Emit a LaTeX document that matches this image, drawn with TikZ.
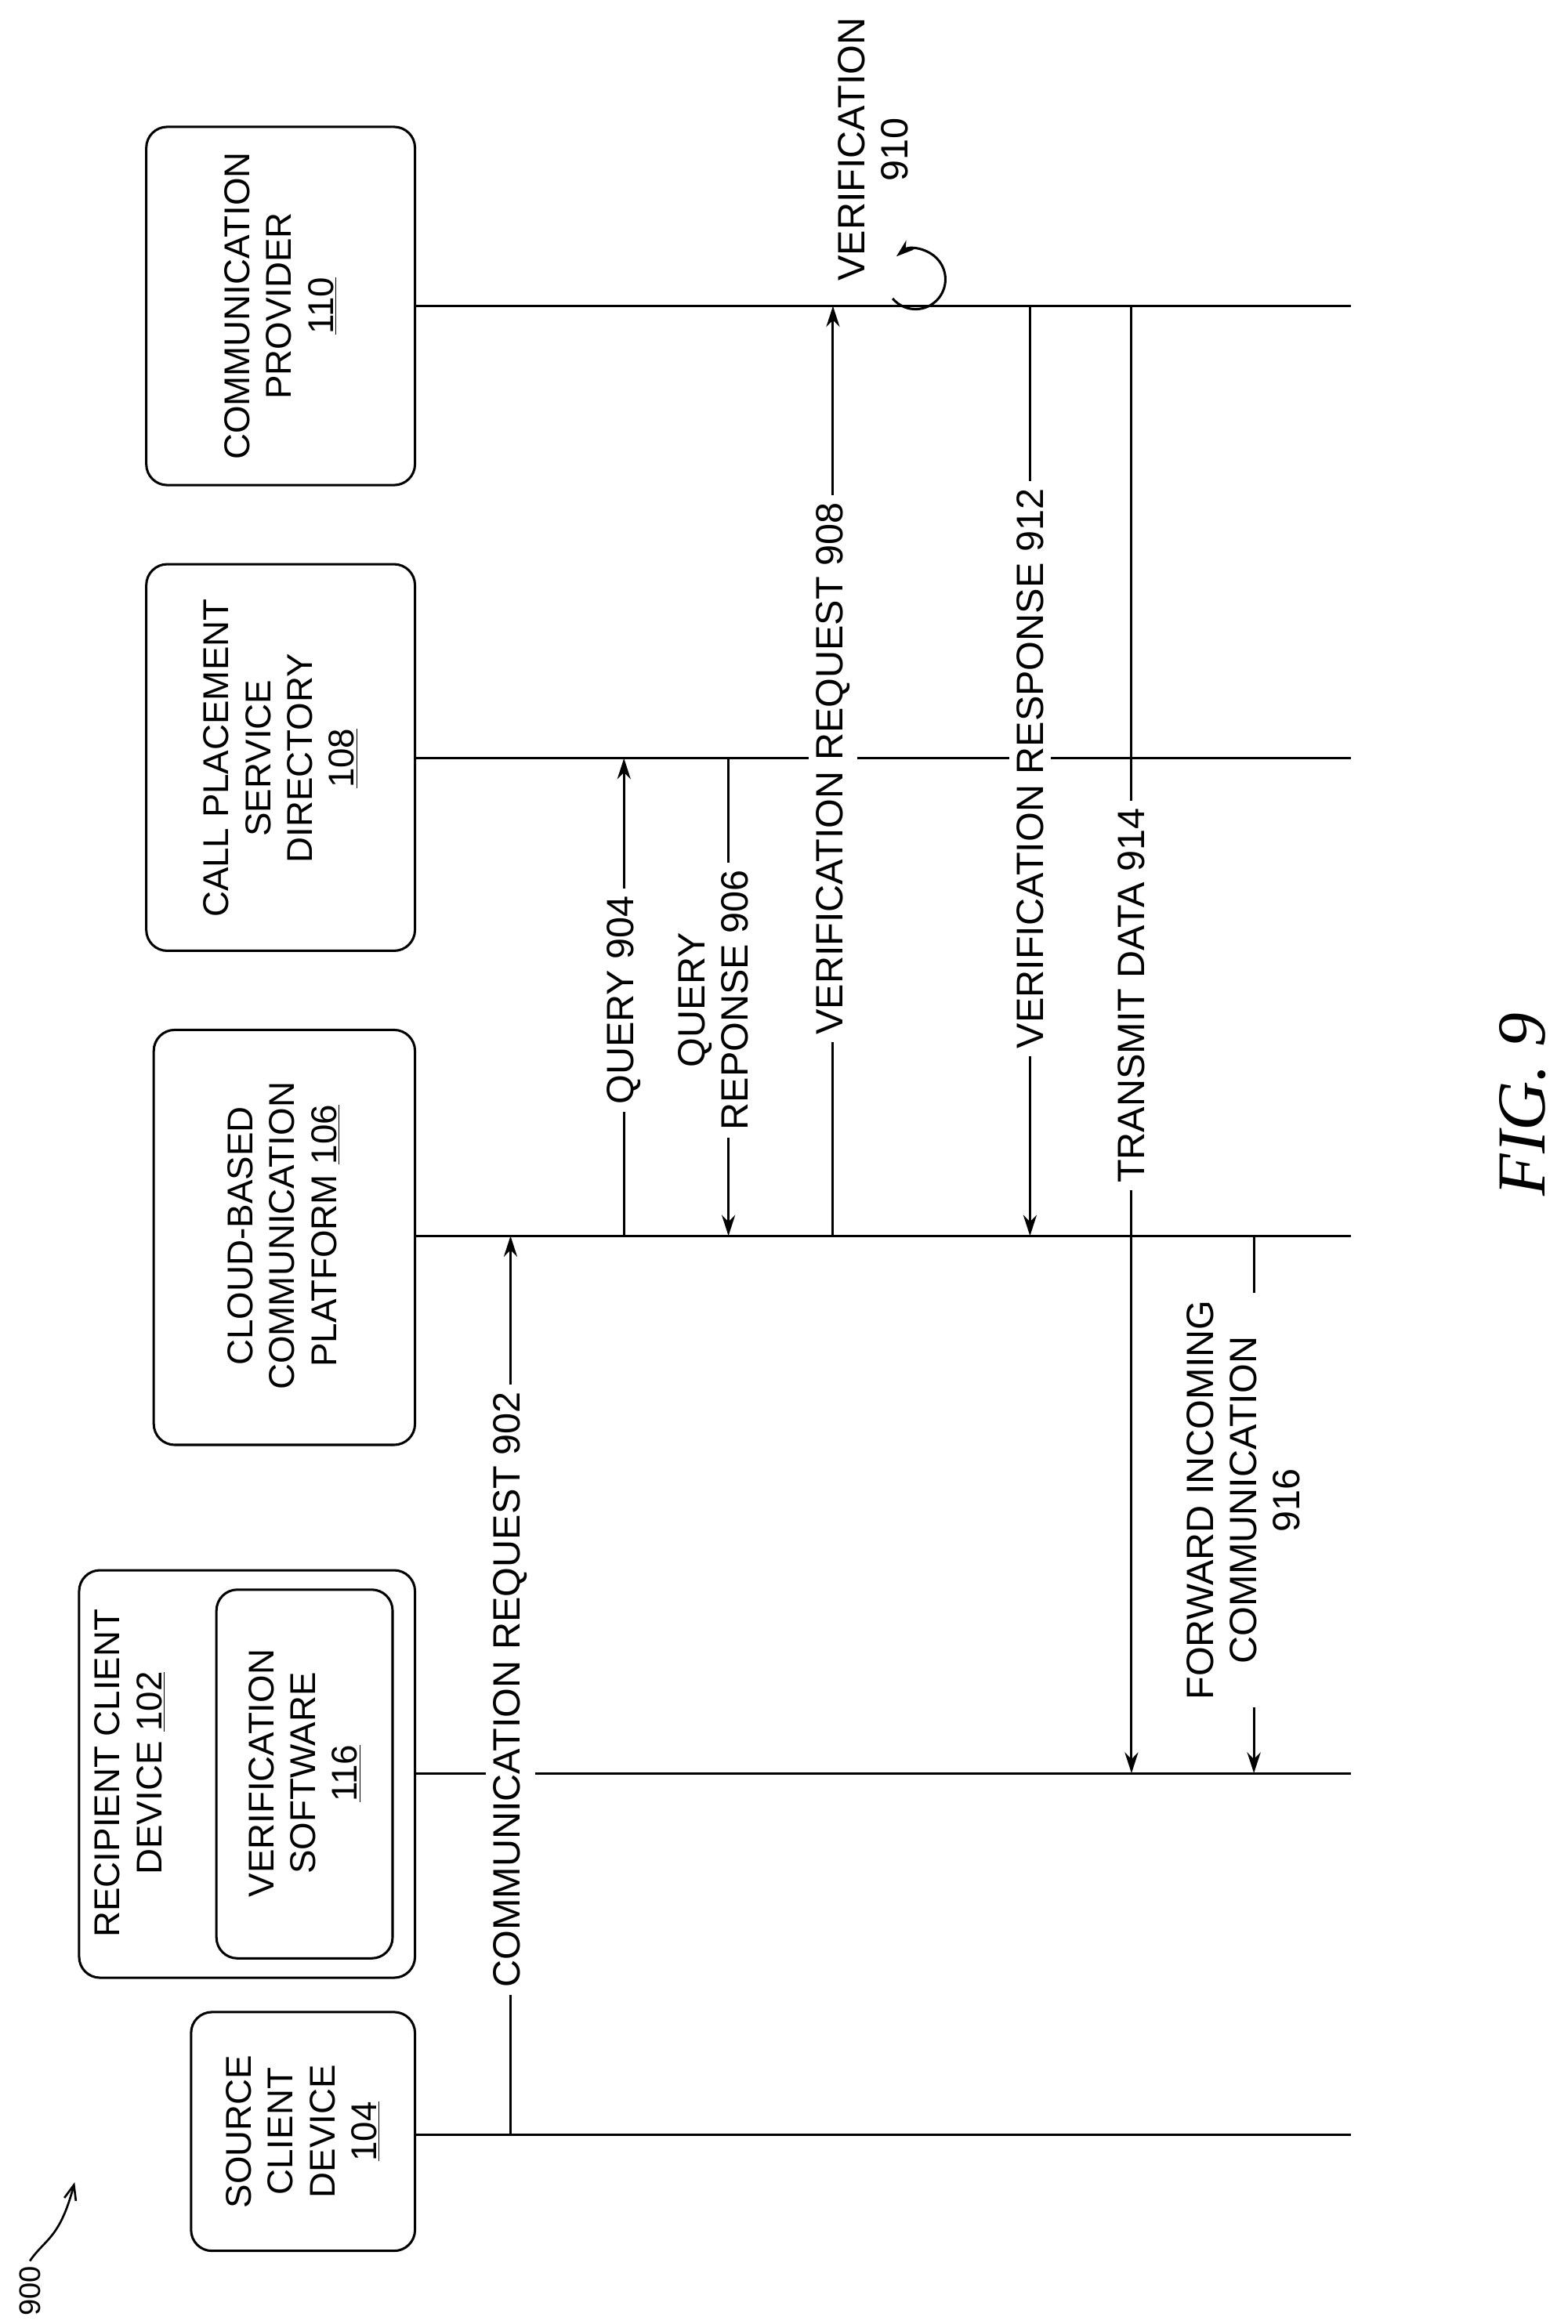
\documentclass[tikz,border=0pt]{standalone}
\usepackage{fontspec}
\setmainfont{Liberation Sans}
\usetikzlibrary{arrows.meta}
\begin{document}
\begin{tikzpicture}[x=1pt,y=-1pt,
  box/.style={draw,line width=1.6pt,rounded corners=14pt},
  btxt/.style={rotate=90,align=center,font=\fontsize{24}{28}\selectfont},
  life/.style={line width=1.6pt},
  msg/.style={line width=1.6pt,-{Stealth[length=14pt,width=9pt]}},
  lab/.style={rotate=90,fill=white,inner sep=5pt,align=center,font=\fontsize{25.5}{29}\selectfont}]
\useasboundingbox (0,0) rectangle (1050,1557);
% boxes
\draw[box] (98,85) rectangle (278,325);
\node[btxt] (b110) at (188,205) {COMMUNICATION\\PROVIDER\\\underline{110}};
\draw[box] (98,378) rectangle (278,637);
\node[btxt] (b108) at (188,508) {CALL PLACEMENT\\SERVICE\\DIRECTORY\\\underline{108}};
\draw[box] (103,690) rectangle (278,968);
\node[btxt] (b106) at (190,828) {CLOUD-BASED\\COMMUNICATION\\PLATFORM \underline{106}};
\draw[box] (53,1052) rectangle (278,1325);
\node[btxt] (b102) at (87,1188) {RECIPIENT CLIENT\\DEVICE \underline{102}};
\draw[box] (145,1065) rectangle (263,1312);
\node[btxt] (b116) at (204,1188) {VERIFICATION\\SOFTWARE\\\underline{116}};
\draw[box] (128,1348) rectangle (278,1508);
\node[btxt] (b104) at (203,1428) {SOURCE\\CLIENT\\DEVICE\\\underline{104}};
% lifelines
\foreach \n/\y in {P/205,D/508,C/828,R/1188,S/1430}{
  \coordinate (\n0) at (278,\y); \coordinate (\n1) at (905,\y);
  \draw[life] (\n0) -- (\n1);}
% message endpoints
\coordinate (a1) at (342,1430); \coordinate (a2) at (342,828);
\coordinate (q1) at (418,828); \coordinate (q2) at (418,508);
\coordinate (r1) at (488,508); \coordinate (r2) at (488,828);
\coordinate (v1) at (558,828); \coordinate (v2) at (558,205);
\coordinate (w1) at (690,205); \coordinate (w2) at (690,828);
\coordinate (t1) at (758,205); \coordinate (t2) at (758,1188);
\coordinate (f1) at (840,828); \coordinate (f2) at (840,1188);
\draw[msg] (a1) -- (a2);
\draw[msg] (q1) -- (q2);
\draw[msg] (r1) -- (r2);
\draw[msg] (v1) -- (v2);
\draw[msg] (w1) -- (w2);
\draw[msg] (t1) -- (t2);
\draw[msg] (f1) -- (f2);
\node[lab] (l902) at (342,1132) {COMMUNICATION REQUEST 902};
\node[lab] (l904) at (418,670) {QUERY 904};
\node[lab] (l906) at (478,670) {QUERY\\REPONSE 906};
\node[lab] (l908) at (558,515) {VERIFICATION REQUEST 908};
\node[lab] (l912) at (690,515) {VERIFICATION RESPONSE 912};
\node[lab] (l914) at (758,667) {TRANSMIT DATA 914};
\node[lab] (l916) at (833,1005) {FORWARD INCOMING\\COMMUNICATION\\916};
% verification loop
\draw[line width=1.6pt,-{Stealth[length=12pt,width=8pt]}] (598,200) arc[start angle=140,end angle=-130,radius=20];
\node[lab,fill=none] (l910) at (585,100) {VERIFICATION\\910};
% figure label
\node[rotate=90,font=\fontsize{46}{50}\selectfont\itshape] (fig) at (1020,740) {\fontspec{Liberation Serif}FIG. 9};
\node[rotate=90,font=\fontsize{20}{24}\selectfont] (n900) at (20,1535) {900};
\coordinate (ae) at (50,1462);
\draw[line width=1.4pt,-{Straight Barb[length=10pt,width=8pt]}] (n900.east) .. controls (30,1500) and (40,1500) .. (ae);
\end{tikzpicture}
\end{document}
